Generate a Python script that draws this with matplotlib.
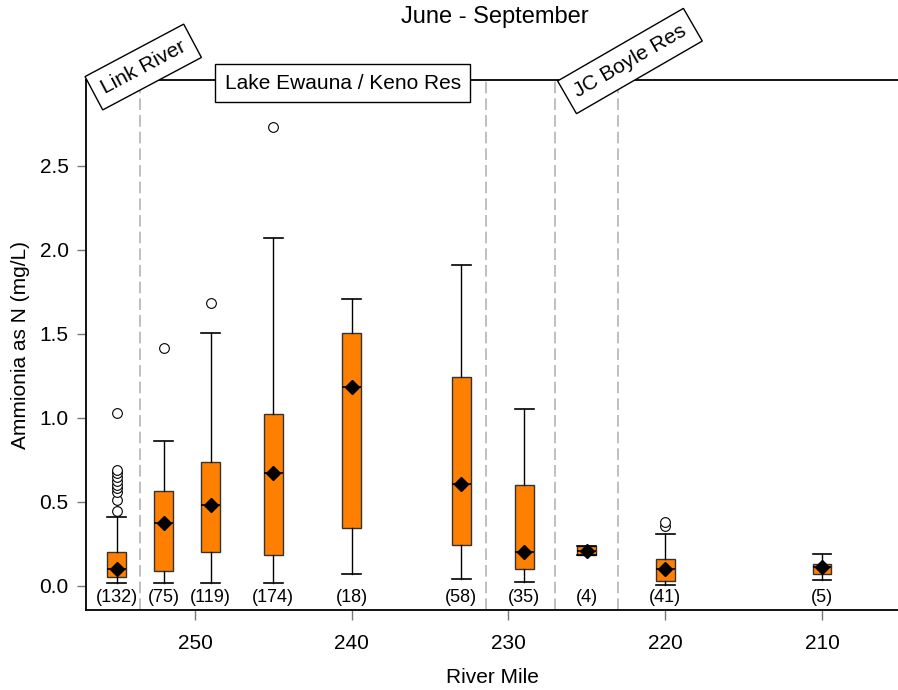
import matplotlib
matplotlib.use('Agg')
import matplotlib.pyplot as plt

plt.rcParams['font.family'] = ['Liberation Sans', 'DejaVu Sans']

# dados (Ammonia como N, mg/L)
river_mile = [255, 252, 249, 245, 240, 233, 229, 225, 220, 210]
n_obs = [132, 75, 119, 174, 18, 58, 35, 4, 41, 5]
q1 = [0.052, 0.088, 0.199, 0.180, 0.342, 0.240, 0.100, 0.183, 0.028, 0.070]
med = [0.100, 0.370, 0.480, 0.670, 1.185, 0.605, 0.200, 0.208, 0.100, 0.110]
q3 = [0.200, 0.564, 0.736, 1.024, 1.506, 1.244, 0.600, 0.234, 0.159, 0.131]
whis_lo = [0.014, 0.014, 0.014, 0.014, 0.071, 0.040, 0.024, 0.183, 0.004, 0.032]
whis_hi = [0.410, 0.863, 1.506, 2.070, 1.707, 1.907, 1.054, 0.234, 0.307, 0.190]
means = [0.100, 0.370, 0.480, 0.670, 1.185, 0.605, 0.200, 0.208, 0.100, 0.110]
outliers = [
    [0.446, 0.51, 0.56, 0.58, 0.60, 0.62, 0.645, 0.67, 0.69, 1.026],
    [1.415],
    [1.681],
    [2.732],
    [], [], [], [],
    [0.355, 0.38],
    [],
]

# limites entre trechos do rio
reach_breaks = [253.5, 231.45, 227.0, 223.0]
reach_names = ['Link River', 'Lake Ewauna / Keno Res', 'JC Boyle Res']
reach_label_x = [253.3, 240.56, 222.25]
reach_label_y = [1.0245, 0.9943, 1.0358]
reach_label_rot = [28, 0, 30]

x_ticks = [250, 240, 230, 220, 210]
y_ticks = [0.0, 0.5, 1.0, 1.5, 2.0, 2.5]

stats = []
for i in range(len(river_mile)):
    stats.append({'q1': q1[i], 'med': med[i], 'q3': q3[i],
                  'whislo': whis_lo[i], 'whishi': whis_hi[i],
                  'mean': means[i], 'fliers': outliers[i]})

fig = plt.figure(figsize=(8.98, 6.9), dpi=100)
ax = fig.add_axes([86/898, (690-610)/690, 812/898, 530/690])

box_w = 1.2
ax.bxp(stats, positions=river_mile, widths=box_w, capwidths=box_w,
       showmeans=True, patch_artist=True, manage_ticks=False,
       boxprops=dict(facecolor='#ff8000', edgecolor='#333333', linewidth=1.0),
       medianprops=dict(color='black', linewidth=1.2),
       whiskerprops=dict(color='black', linewidth=1.0),
       capprops=dict(color='black', linewidth=1.2),
       meanprops=dict(marker='D', markerfacecolor='black', markeredgecolor='black',
                      markersize=7),
       flierprops=dict(marker='o', markerfacecolor='white', markeredgecolor='black',
                       markersize=7, markeredgewidth=0.8))

for xb in reach_breaks:
    ax.axvline(xb, color='#b4b4b4', linewidth=1.2, dashes=(7, 3), zorder=0)

# numero de amostras
for i in range(len(river_mile)):
    ax.text(river_mile[i], -0.073, '(' + str(n_obs[i]) + ')', ha='center', va='center',
            fontsize=13)

# nomes dos trechos
for i in range(len(reach_names)):
    ax.text(reach_label_x[i], reach_label_y[i], reach_names[i],
            transform=ax.get_xaxis_transform(), ha='center', va='center',
            rotation=reach_label_rot[i], rotation_mode='anchor', fontsize=15,
            bbox=dict(boxstyle='square,pad=0.45', facecolor='white', edgecolor='black',
                      linewidth=1.0),
            zorder=10, clip_on=False)

ax.set_xlim(256.95, 205.15)
ax.set_ylim(-0.145, 3.01)
ax.set_xticks(x_ticks)
ax.set_xticklabels([str(v) for v in x_ticks])
ax.set_yticks(y_ticks)
ax.set_yticklabels(['%.1f' % v for v in y_ticks])

ax.tick_params(axis='x', direction='out', length=7, width=1, color='#777777',
               labelsize=15, pad=10)
ax.tick_params(axis='y', direction='out', length=6.5, width=1, color='#777777',
               labelsize=15, pad=6)

for s in ['left', 'bottom', 'top']:
    ax.spines[s].set_linewidth(1.3)
    ax.spines[s].set_color('black')
ax.spines['right'].set_visible(False)

ax.set_xlabel('River Mile', fontsize=15, labelpad=11)
ax.set_ylabel('Ammionia as N (mg/L)', fontsize=15, labelpad=7)

fig.text(494.5/898, 1 - 23/690, 'June - September', ha='center', va='baseline',
         fontsize=17)

plt.savefig('out.png', dpi=100)
